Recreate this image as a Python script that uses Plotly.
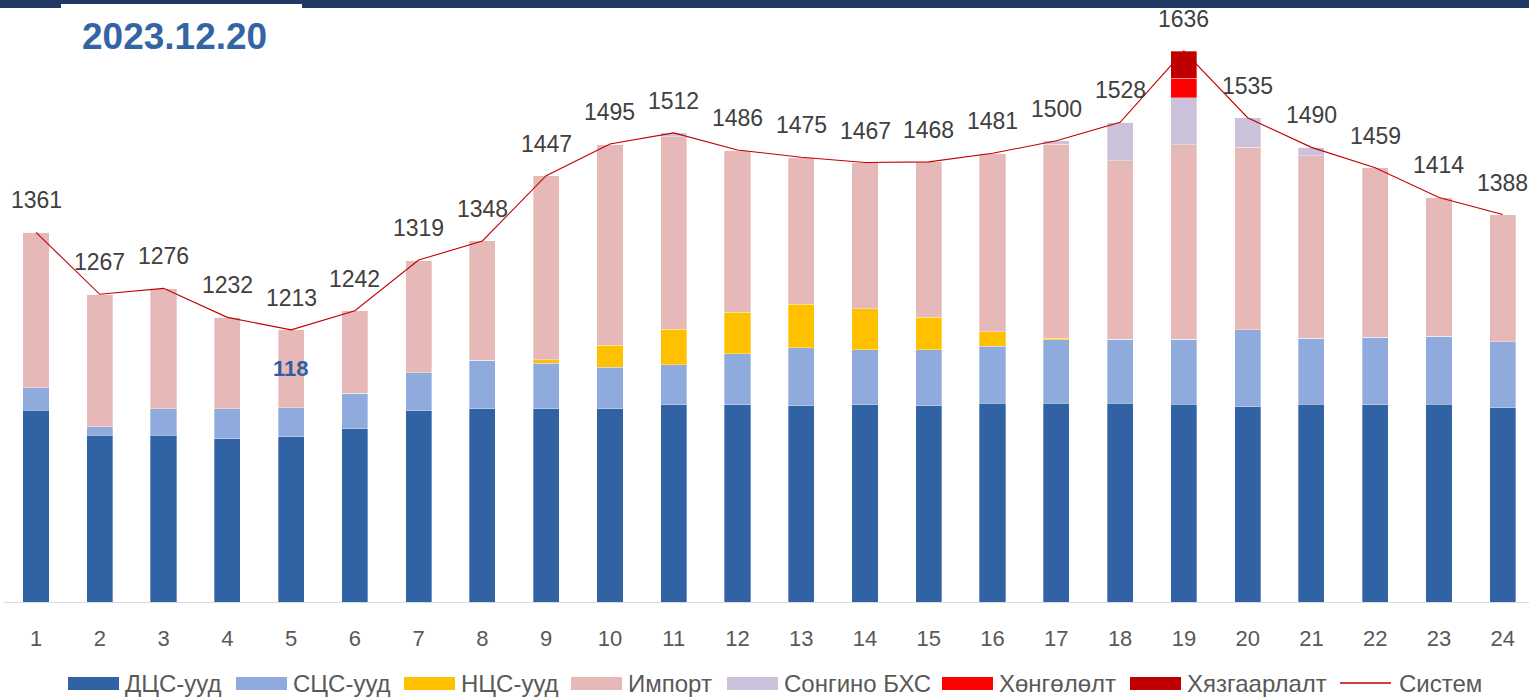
import plotly.graph_objects as go

hours = list(range(1, 25))
hour_labels = [str(h) for h in hours]

dcs = [1091, 1053, 1053, 1048, 1051, 1063, 1090, 1093, 1093, 1093, 1099, 1099,
       1098, 1099, 1098, 1102, 1102, 1102, 1100, 1096, 1100, 1099, 1100, 1095]
scs = [34, 13, 40, 45, 44, 54, 58, 74, 69, 63, 61, 78,
       88, 84, 85, 86, 96, 97, 99, 117, 100, 103, 103, 100]
ncs = [0, 0, 0, 0, 0, 0, 0, 0, 6, 34, 54, 63,
       66, 62, 49, 22, 2, 0, 0, 0, 0, 0, 0, 0]
imp = [236, 201, 183, 139, 118, 125, 171, 181, 279, 305, 292, 246,
       223, 222, 236, 271, 295, 271, 295, 277, 277, 257, 211, 193]
songino = [0, 0, 0, 0, 0, 0, 0, 0, 0, 0, 6, 0,
           0, 0, 0, 0, 5, 58, 71, 45, 13, 0, 0, 0]
hongololt = [0] * 18 + [30] + [0] * 5
hyazgaar = [0] * 18 + [41] + [0] * 5
system = [1361, 1267, 1276, 1232, 1213, 1242, 1319, 1348, 1447, 1495, 1512, 1486,
          1475, 1467, 1468, 1481, 1500, 1528, 1636, 1535, 1490, 1459, 1414, 1388]

names = ["ДЦС-ууд", "СЦС-ууд", "НЦС-ууд", "Импорт", "Сонгино БХС", "Хөнгөлөлт", "Хязгаарлалт"]
series = [dcs, scs, ncs, imp, songino, hongololt, hyazgaar]
colors = ["#3162A3", "#8FAADC", "#FFC000", "#E6B8B7", "#CCC1DA", "#FF0000", "#C00000"]
line_name = "Систем"
line_color = "#C00000"

W, H = 1529, 697
PL, PR, PT, PB = 4, 1529, 9, 602  # plot area in pixels

fig = go.Figure()
for nm, vals, col in zip(names, series, colors):
    fig.add_trace(go.Bar(
        x=hours, y=vals, name=nm, width=0.41,
        marker=dict(color=col, line=dict(color="rgba(255,255,255,0.55)", width=0.6)),
        showlegend=False,
    ))

fig.add_trace(go.Scatter(
    x=hours, y=system, name=line_name, mode="lines",
    line=dict(color=line_color, width=1.1), showlegend=False,
))

annotations = []
for h, v in zip(hours, system):
    annotations.append(dict(
        x=h, y=v, xref="x", yref="y", text=str(v), showarrow=False,
        yshift=32, font=dict(family="Liberation Sans, Arial", size=23, color="#404040"),
    ))

# import data label at hour 5
i5 = 4
annotations.append(dict(
    x=hours[i5], y=dcs[i5] + scs[i5] + ncs[i5] + imp[i5] / 2, xref="x", yref="y",
    text="<b>%d</b>" % imp[i5], showarrow=False,
    font=dict(family="Liberation Sans, Arial", size=22, color="#2F5FA0"),
))

def px_x(p):
    return (p - PL) / (PR - PL)

def px_y(p):
    return (PB - p) / (PB - PT)

# title
annotations.append(dict(
    x=px_x(80), y=px_y(37), xref="paper", yref="paper", xanchor="left", yanchor="middle",
    text="<b>2023.12.20</b>", showarrow=False,
    font=dict(family="Liberation Sans, Arial", size=37, color="#3464A4"),
))

shapes = []
# top band
shapes.append(dict(type="rect", xref="paper", yref="paper",
                   x0=px_x(0), x1=px_x(W), y0=px_y(8), y1=px_y(0),
                   fillcolor="#1F3864", line=dict(width=0), layer="above"))
shapes.append(dict(type="rect", xref="paper", yref="paper",
                   x0=px_x(61), x1=px_x(302), y0=px_y(8), y1=px_y(4),
                   fillcolor="white", line=dict(width=0), layer="above"))

# custom legend
leg_y = 683
leg_left = [68, 236, 404, 571, 727, 942, 1130]
for nm, col, lx in zip(names, colors, leg_left):
    shapes.append(dict(type="rect", xref="paper", yref="paper",
                       x0=px_x(lx), x1=px_x(lx + 51), y0=px_y(leg_y + 7), y1=px_y(leg_y - 6),
                       fillcolor=col, line=dict(width=0)))
    annotations.append(dict(x=px_x(lx + 55), y=px_y(leg_y), xref="paper", yref="paper",
                            xanchor="left", yanchor="middle", text=nm, showarrow=False,
                            font=dict(family="Liberation Sans, Arial", size=24, color="#595959")))
lx = 1340
shapes.append(dict(type="line", xref="paper", yref="paper",
                   x0=px_x(lx), x1=px_x(lx + 51), y0=px_y(leg_y), y1=px_y(leg_y),
                   line=dict(color=line_color, width=1.3)))
annotations.append(dict(x=px_x(lx + 57), y=px_y(leg_y), xref="paper", yref="paper",
                        xanchor="left", yanchor="middle", text=line_name, showarrow=False,
                        font=dict(family="Liberation Sans, Arial", size=24, color="#595959")))

fig.update_layout(
    width=W, height=H,
    margin=dict(l=PL, r=W - PR, t=PT, b=H - PB),
    barmode="stack",
    plot_bgcolor="white", paper_bgcolor="white",
    xaxis=dict(
        range=[0.498, 24.412], tickmode="array", tickvals=hours, ticktext=hour_labels,
        showline=True, linecolor="#D9D9D9", linewidth=1.3, showgrid=False, zeroline=False,
        ticks="", ticklabelstandoff=16,
        tickfont=dict(family="Liberation Sans, Arial", size=22, color="#595959"),
    ),
    yaxis=dict(range=[800, 1700], showgrid=False, zeroline=False, showticklabels=False,
               showline=False, ticks=""),
    annotations=annotations,
    shapes=shapes,
    showlegend=False,
)

fig.write_html(
    "out.html",
    config={"displayModeBar": False},
    post_script="document.body.style.margin='0';document.body.style.padding='0';"
                "document.body.style.overflow='hidden';",
)
